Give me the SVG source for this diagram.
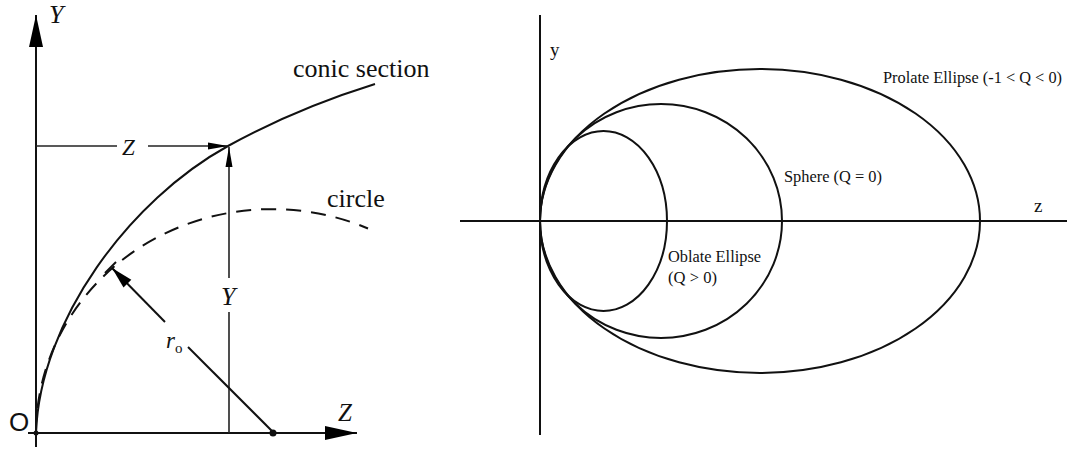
<svg xmlns="http://www.w3.org/2000/svg" width="1067" height="450" viewBox="0 0 1067 450">
<style>
.ln{stroke:#111;stroke-width:2;fill:none}
.thin{stroke:#222;stroke-width:1.6;fill:none}
.dash{stroke:#111;stroke-width:2;fill:none;stroke-dasharray:15 10}
.serif{font-family:"Liberation Serif","Times New Roman",serif;fill:#111}
.it{font-style:italic}
.sans{font-family:"Liberation Sans",Arial,sans-serif;fill:#111}
</style>
<defs>
<marker id="axArrow" markerUnits="userSpaceOnUse" markerWidth="40" markerHeight="20" viewBox="-34 -10 36 20" refX="0" refY="0" orient="auto"><path d="M0,0 L-32,-7 L-32,7 Z" fill="#000"/></marker>
<marker id="dimArrow" markerUnits="userSpaceOnUse" markerWidth="24" markerHeight="10" viewBox="-22 -5 24 10" refX="0" refY="0" orient="auto"><path d="M0,0 L-20,-3.5 L-20,3.5 Z" fill="#000"/></marker>
<marker id="rArrow" markerUnits="userSpaceOnUse" markerWidth="26" markerHeight="14" viewBox="-24 -7 26 14" refX="0" refY="0" orient="auto"><path d="M0,0 L-22,-5.5 L-22,5.5 Z" fill="#000"/></marker>
</defs>

<g id="left-axes">
<line class="ln" x1="36" y1="447" x2="36" y2="15" marker-end="url(#axArrow)"/>
<line class="ln" x1="28" y1="433" x2="357" y2="433" marker-end="url(#axArrow)"/>
<circle cx="36" cy="433" r="2.5" fill="#111"/>
<circle cx="273" cy="433" r="3.5" fill="#111"/>
<text class="sans" x="9" y="431" font-size="26">O</text>
<text class="serif it" x="49" y="23" font-size="26">Y</text>
<text class="serif it" x="338" y="421" font-size="25">Z</text>
</g>

<g id="conic-section">
<path class="ln" d="M36,433 C40,320 130,200 228,146 C282,116.2 330,98 375,84"/>
<text class="serif" x="293" y="77" font-size="26">conic section</text>
</g>

<g id="circle">
<path class="dash" d="M36,433 A236,224 0 0 1 368,228.5"/>
<text class="serif" x="327" y="207" font-size="26">circle</text>
</g>

<g id="connectors">
<line class="thin" x1="36" y1="146" x2="117" y2="146"/>
<line class="thin" x1="148" y1="146" x2="228" y2="146" marker-end="url(#dimArrow)"/>
<line class="thin" x1="229" y1="433" x2="229" y2="312"/>
<line class="thin" x1="229" y1="278" x2="229" y2="147" marker-end="url(#dimArrow)"/>
<line class="ln" x1="273" y1="432" x2="188" y2="347"/>
<line class="ln" x1="165" y1="322" x2="112" y2="268" marker-end="url(#rArrow)"/>
<line class="ln" x1="105" y1="273" x2="116" y2="262"/>
</g>

<g id="dim-labels">
<text class="serif it" x="122" y="155" font-size="23">Z</text>
<text class="serif it" x="221" y="305" font-size="26">Y</text>
<text class="serif it" x="166" y="348" font-size="23">r</text>
<text class="serif" x="175" y="353" font-size="15">o</text>
</g>

<g id="right-axes">
<line class="ln" x1="540" y1="15" x2="540" y2="435"/>
<line class="ln" x1="460" y1="221" x2="1067" y2="221"/>
<text class="serif" x="550" y="56" font-size="19">y</text>
<text class="serif" x="1034" y="212" font-size="19">z</text>
</g>

<g id="prolate-ellipse">
<ellipse class="ln" cx="760" cy="221" rx="220" ry="152"/>
<text class="serif" x="883" y="83" font-size="16" textLength="179" lengthAdjust="spacingAndGlyphs">Prolate Ellipse (-1 &lt; Q &lt; 0)</text>
</g>

<g id="sphere">
<ellipse class="ln" cx="661" cy="221" rx="121" ry="117"/>
<text class="serif" x="784" y="182" font-size="16" textLength="98" lengthAdjust="spacingAndGlyphs">Sphere (Q = 0)</text>
</g>

<g id="oblate-ellipse">
<ellipse class="ln" cx="603.5" cy="221" rx="63.5" ry="90"/>
<text class="serif" x="668" y="262" font-size="16" textLength="93" lengthAdjust="spacingAndGlyphs">Oblate Ellipse</text>
<text class="serif" x="668" y="283" font-size="16" textLength="49" lengthAdjust="spacingAndGlyphs">(Q &gt; 0)</text>
</g>
</svg>
